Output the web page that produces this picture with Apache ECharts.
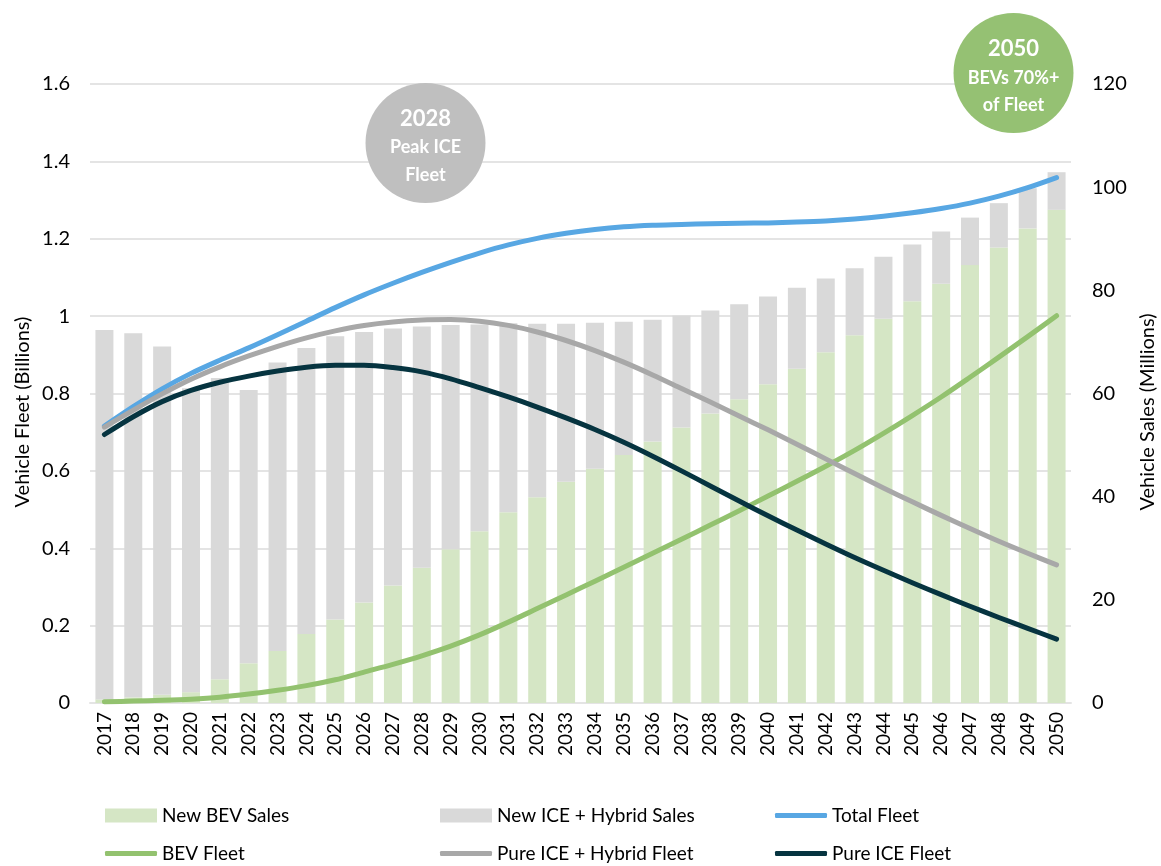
<!DOCTYPE html>
<html>
<head>
<meta charset="utf-8">
<script src="https://cdn.jsdelivr.net/npm/echarts@6/dist/echarts.min.js"></script>
<style>
html,body{margin:0;padding:0;background:#fff;}
#chart{width:1161px;height:866px;}
</style>
</head>
<body>
<div id="chart"></div>
<script>
// ---- Data ----
const years = ['2017','2018','2019','2020','2021','2022','2023','2024','2025','2026','2027','2028','2029','2030','2031','2032','2033','2034','2035','2036','2037','2038','2039','2040','2041','2042','2043','2044','2045','2046','2047','2048','2049','2050'];

// Vehicle sales (millions) - right axis, stacked
const newBevSales = [0.7,1.1,1.6,2.1,4.6,7.7,10.1,13.4,16.2,19.5,22.8,26.2,29.8,33.3,37.0,39.9,42.9,45.4,48.1,50.7,53.4,56.1,58.9,61.8,64.8,68.0,71.3,74.5,77.9,81.3,84.9,88.3,92.0,95.6];
const newIceHybridSales = [71.6,70.6,67.5,58.9,58.4,53.0,55.9,55.4,54.9,52.4,49.8,46.8,43.5,40.1,36.6,33.6,30.6,28.3,25.8,23.6,21.7,20.0,18.4,17.0,15.7,14.3,13.0,12.0,11.0,10.1,9.2,8.6,7.8,7.3];

// Vehicle fleet (billions) - left axis
const totalFleet = [0.716,0.766,0.812,0.852,0.886,0.918,0.952,0.987,1.022,1.055,1.085,1.113,1.139,1.163,1.184,1.201,1.214,1.224,1.231,1.235,1.237,1.239,1.240,1.241,1.243,1.246,1.251,1.258,1.267,1.278,1.292,1.310,1.332,1.358];
const bevFleet = [0.003,0.005,0.007,0.010,0.015,0.023,0.033,0.045,0.060,0.080,0.100,0.122,0.147,0.176,0.209,0.244,0.279,0.315,0.351,0.387,0.423,0.460,0.497,0.535,0.573,0.612,0.653,0.697,0.743,0.791,0.842,0.894,0.947,1.001];
const pureIceHybridFleet = [0.713,0.757,0.799,0.837,0.869,0.897,0.922,0.944,0.962,0.976,0.985,0.990,0.991,0.987,0.976,0.959,0.937,0.911,0.881,0.848,0.813,0.778,0.742,0.706,0.669,0.631,0.593,0.556,0.520,0.485,0.451,0.418,0.387,0.357];
const pureIceFleet = [0.694,0.740,0.779,0.808,0.829,0.845,0.858,0.868,0.873,0.873,0.867,0.856,0.838,0.815,0.791,0.765,0.737,0.707,0.674,0.638,0.600,0.561,0.522,0.484,0.447,0.411,0.376,0.343,0.311,0.280,0.250,0.221,0.193,0.165];

const leftTicks = {min:0, max:1.6, interval:0.2};
const rightTicks = {min:0, max:120, interval:20};

const FONT = 'Lato, "Noto Sans", sans-serif';
const C = {
  bevSales:'#D5E6C5', iceSales:'#D9D9D9', total:'#58A7E3', bev:'#93C26F', iceHyb:'#A8A8A8', ice:'#063440',
  grid:'#E4E4E4'
};

const chart = echarts.init(document.getElementById('chart'), null, {renderer:'canvas'});

function legendItem(name, left, top, isLine){
  return {
    data:[ isLine ? {name:name, icon:'roundRect'} : {name:name, icon:'rect'} ],
    left:left, top:top, orient:'horizontal', padding:0,
    itemWidth:52, itemHeight: isLine ? 5 : 14, itemGap:5,
    textStyle:{fontFamily:FONT, fontSize:19, color:'#000'},
    selectedMode:false
  };
}

const lineCommon = (name, data, color) => ({
  name, type:'line', yAxisIndex:0, data, smooth:0.3, symbol:'none', showSymbol:false,
  lineStyle:{color, width:5, cap:'round', join:'round'}, itemStyle:{color},
  emphasis:{disabled:true}, z:3
});

const option = {
  animation:false,
  backgroundColor:'#fff',
  textStyle:{fontFamily:FONT},
  grid:{left:90, right:90, top:84, bottom:163, containLabel:false},
  legend:[
    legendItem('New BEV Sales', 105, 806, false),
    legendItem('New ICE + Hybrid Sales', 440, 806, false),
    legendItem('Total Fleet', 775, 806, true),
    legendItem('BEV Fleet', 105, 844, true),
    legendItem('Pure ICE + Hybrid Fleet', 440, 844, true),
    legendItem('Pure ICE Fleet', 775, 844, true)
  ],
  xAxis:{
    type:'category', data:years, boundaryGap:true,
    axisLine:{show:true, lineStyle:{color:C.grid, width:2}},
    axisTick:{show:false},
    axisLabel:{rotate:90, fontSize:19, color:'#000', fontFamily:FONT, margin:9, interval:0}
  },
  yAxis:[
    {
      type:'value', min:leftTicks.min, max:leftTicks.max, interval:leftTicks.interval, position:'left',
      axisLine:{show:false}, axisTick:{show:false},
      splitLine:{show:true, lineStyle:{color:C.grid, width:2}},
      axisLabel:{fontSize:20, color:'#000', fontFamily:FONT, margin:20,
        formatter:v=>String(Math.round(v*10)/10)}
    },
    {
      type:'value', min:rightTicks.min, max:rightTicks.max, interval:rightTicks.interval, position:'right',
      axisLine:{show:false}, axisTick:{show:false}, splitLine:{show:false},
      axisLabel:{fontSize:20, color:'#000', fontFamily:FONT, margin:21}
    }
  ],
  series:[
    {name:'New BEV Sales', type:'bar', stack:'sales', yAxisIndex:1, data:newBevSales, barWidth:18,
      itemStyle:{color:C.bevSales}, emphasis:{disabled:true}, z:1},
    {name:'New ICE + Hybrid Sales', type:'bar', stack:'sales', yAxisIndex:1, data:newIceHybridSales, barWidth:18,
      itemStyle:{color:C.iceSales}, emphasis:{disabled:true}, z:1},
    lineCommon('Total Fleet', totalFleet, C.total),
    lineCommon('BEV Fleet', bevFleet, C.bev),
    lineCommon('Pure ICE + Hybrid Fleet', pureIceHybridFleet, C.iceHyb),
    lineCommon('Pure ICE Fleet', pureIceFleet, C.ice)
  ],
  graphic:[
    {type:'text', x:23, y:412, rotation:Math.PI/2,
      style:{text:'Vehicle Fleet (Billions)', fontSize:20, fontFamily:FONT, fill:'#000', align:'center', verticalAlign:'middle'}},
    {type:'text', x:1148, y:412, rotation:Math.PI/2,
      style:{text:'Vehicle Sales (Millions)', fontSize:20, fontFamily:FONT, fill:'#000', align:'center', verticalAlign:'middle'}},
    {type:'circle', shape:{cx:425.5, cy:143, r:60}, style:{fill:'#BFBFBF'}, z:10},
    {type:'text', x:425.5, y:119, z:11, style:{text:'2028', fontSize:22, fontWeight:'bold', fontFamily:FONT, fill:'#fff', align:'center', verticalAlign:'middle'}},
    {type:'text', x:425.5, y:147, z:11, style:{text:'Peak ICE', fontSize:18, fontWeight:'bold', fontFamily:FONT, fill:'#fff', align:'center', verticalAlign:'middle'}},
    {type:'text', x:425.5, y:175, z:11, style:{text:'Fleet', fontSize:18, fontWeight:'bold', fontFamily:FONT, fill:'#fff', align:'center', verticalAlign:'middle'}},
    {type:'circle', shape:{cx:1013.5, cy:73, r:60}, style:{fill:'#95C173'}, z:10},
    {type:'text', x:1013.5, y:49, z:11, style:{text:'2050', fontSize:22, fontWeight:'bold', fontFamily:FONT, fill:'#fff', align:'center', verticalAlign:'middle'}},
    {type:'text', x:1013.5, y:78, z:11, style:{text:'BEVs 70%+', fontSize:18, fontWeight:'bold', fontFamily:FONT, fill:'#fff', align:'center', verticalAlign:'middle'}},
    {type:'text', x:1013.5, y:105, z:11, style:{text:'of Fleet', fontSize:18, fontWeight:'bold', fontFamily:FONT, fill:'#fff', align:'center', verticalAlign:'middle'}}
  ]
};
chart.setOption(option);
</script>
</body>
</html>
